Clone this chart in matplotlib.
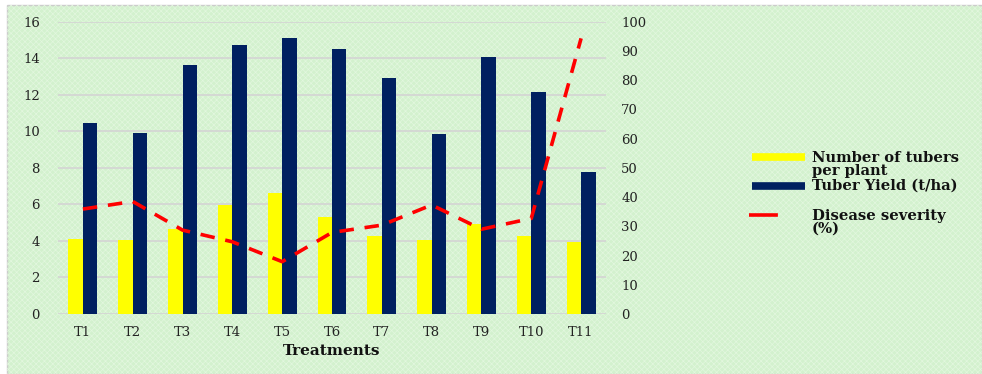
import matplotlib
matplotlib.use("Agg")
import matplotlib.pyplot as plt
import numpy as np
from matplotlib.patches import Rectangle
from matplotlib.lines import Line2D

# Treatment data
treatments = ["T1", "T2", "T3", "T4", "T5", "T6", "T7", "T8", "T9", "T10", "T11"]
tubers_per_plant = [4.1, 4.07, 4.63, 5.97, 6.6, 5.3, 4.29, 4.07, 4.94, 4.29, 3.96]
tuber_yield = [10.45, 9.9, 13.65, 14.7, 15.12, 14.5, 12.9, 9.85, 14.05, 12.13, 7.75]
disease_severity = [35.9, 38.5, 28.7, 24.7, 17.9, 27.9, 30.4, 37.3, 29.0, 32.7, 94.3]

left_ticks = [0, 2, 4, 6, 8, 10, 12, 14, 16]
right_ticks = [0, 10, 20, 30, 40, 50, 60, 70, 80, 90, 100]

YELLOW = "#ffff00"
NAVY = "#002060"
RED = "#ff0000"
BG = "#d3f1ce"

plt.rcParams["font.family"] = ["DejaVu Serif"]
plt.rcParams["hatch.linewidth"] = 0.5

W, H = 982, 374
fig = plt.figure(figsize=(W / 100, H / 100), dpi=100)
fig.patch.set_facecolor("white")

# Chart area with a light textured green fill and thin grey frame
bg = Rectangle((7 / W, 0), 1 - 7 / W, 1 - 5 / H, transform=fig.transFigure,
               facecolor=BG, edgecolor="#cccccc", linewidth=1.0, zorder=-10)
fig.add_artist(bg)
tex = Rectangle((7 / W, 0), 1 - 7 / W, 1 - 5 / H, transform=fig.transFigure,
                facecolor="none", edgecolor="#e2f7de", hatch="xxxxxx", linewidth=0,
                zorder=-9)
fig.add_artist(tex)

ax_l, ax_r = 58 / W, 606 / W
ax_b, ax_t = 1 - 314 / H, 1 - 21.7 / H
ax = fig.add_axes([ax_l, ax_b, ax_r - ax_l, ax_t - ax_b])
ax.patch.set_alpha(0)

x = np.arange(len(treatments))
bw = 0.29
ax.bar(x - bw / 2, tubers_per_plant, width=bw, color=YELLOW, zorder=3)
ax.bar(x + bw / 2, tuber_yield, width=bw, color=NAVY, zorder=3)

ax.set_xlim(-0.5, len(treatments) - 0.5)
ax.set_ylim(0, 16)
ax.set_yticks(left_ticks)
ax.set_xticks(x)
ax.set_xticklabels(treatments)
ax.yaxis.grid(True, color="#d4d4d4", linewidth=1.2, zorder=0)
ax.set_axisbelow(True)
for s in ax.spines.values():
    s.set_visible(False)
ax.tick_params(axis="both", length=0, labelsize=9.5, colors="#222222")
ax.tick_params(axis="y", pad=13)
ax.tick_params(axis="x", pad=9)
ax.set_xlabel("Treatments", fontsize=11, fontweight="bold", labelpad=3,
              color="#111111")

ax2 = ax.twinx()
ax2.set_ylim(0, 100)
ax2.set_yticks(right_ticks)
ax2.plot(x, disease_severity, color=RED, linewidth=2.6, dashes=(4, 3.0),
         zorder=5, solid_capstyle="butt")
for s in ax2.spines.values():
    s.set_visible(False)
ax2.tick_params(axis="y", length=0, labelsize=9.5, colors="#222222", pad=11)

# Legend
def fx(px):
    return px / W

def fy(py):
    return 1 - py / H

fig.add_artist(Line2D([fx(752), fx(805)], [fy(157), fy(157)], color=YELLOW,
                      linewidth=5.5, transform=fig.transFigure, solid_capstyle="butt"))
fig.add_artist(Line2D([fx(752), fx(805)], [fy(186), fy(186)], color=NAVY,
                      linewidth=5.5, transform=fig.transFigure, solid_capstyle="butt"))
fig.add_artist(Line2D([fx(749), fx(805)], [fy(215), fy(215)], color=RED,
                      linewidth=2.6, dashes=(8, 14), transform=fig.transFigure,
                      solid_capstyle="butt"))
legend_kw = dict(fontsize=10.6, fontweight="bold", va="center", ha="left",
                 color="#111111", linespacing=0.92)
fig.text(fx(812), fy(164.5), "Number of tubers\nper plant", **legend_kw)
fig.text(fx(812), fy(186), "Tuber Yield (t/ha)", **legend_kw)
fig.text(fx(812), fy(222.5), "Disease severity\n(%)", **legend_kw)

fig.savefig("out.png", dpi=100)
